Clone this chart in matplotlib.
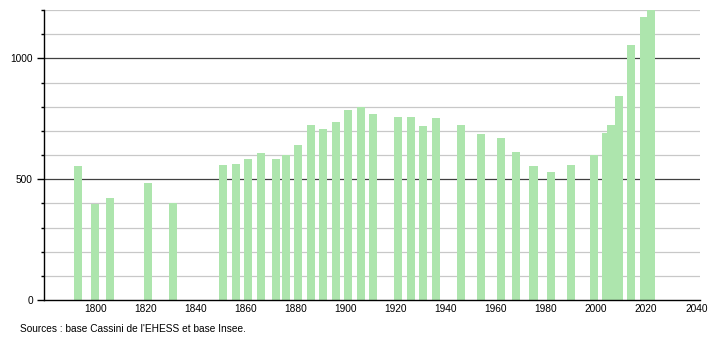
import matplotlib.pyplot as plt
import numpy as np

plt.rcParams.update({'font.family': ['Liberation Sans', 'DejaVu Sans']})
plt.rcParams.update({'font.size': 7.3})

# census years and population
years = [1793, 1800, 1806, 1821, 1831, 1851, 1856, 1861, 1866, 1872,
         1876, 1881, 1886, 1891, 1896, 1901, 1906, 1911, 1921, 1926,
         1931, 1936, 1946, 1954, 1962, 1968, 1975, 1982, 1990, 1999,
         2004, 2006, 2009, 2014, 2019, 2022]
population = [554, 399, 424, 483, 403, 558, 562, 582, 607, 583,
              602, 641, 724, 706, 735, 785, 800, 769, 756, 756,
              719, 752, 723, 685, 669, 611, 553, 528, 557, 601,
              690, 723, 843, 1055, 1173, 1215]
xticks = np.arange(1800, 2041, 20)
source = "Sources : base Cassini de l'EHESS et base Insee."

fig = plt.figure(figsize=(7.1, 3.4), dpi=100)
ax = fig.add_axes([44/710, 1-300/340, 656/710, 290/340])

# grid: light every 100, dark every 500
for v in range(100, 1201, 100):
    if v % 500 == 0:
        ax.axhline(v, color='#404040', lw=0.9, zorder=1)
    else:
        ax.axhline(v, color='#c8c8c8', lw=0.9, zorder=1)

ax.bar(years, population, width=3.2, color='#ade5ad', zorder=2)

ax.set_xlim(1779.5, 2041.5)
ax.set_ylim(0, 1200)
ax.set_xticks(xticks)
ax.set_yticks([0, 500, 1000])
ax.set_yticks(np.arange(0, 1201, 100), minor=True)
ax.tick_params(axis='x', length=0, pad=3)
ax.tick_params(axis='y', which='major', length=5, width=1, pad=3)
ax.tick_params(axis='y', which='minor', length=2.5, width=1)

for sp in ['top', 'right']:
    ax.spines[sp].set_visible(False)
ax.spines['left'].set_linewidth(1)
ax.spines['bottom'].set_linewidth(1)

fig.text(20/710, 1-329/340, source, fontsize=7.3, va='center', ha='left')

plt.savefig('out.png', dpi=100)
